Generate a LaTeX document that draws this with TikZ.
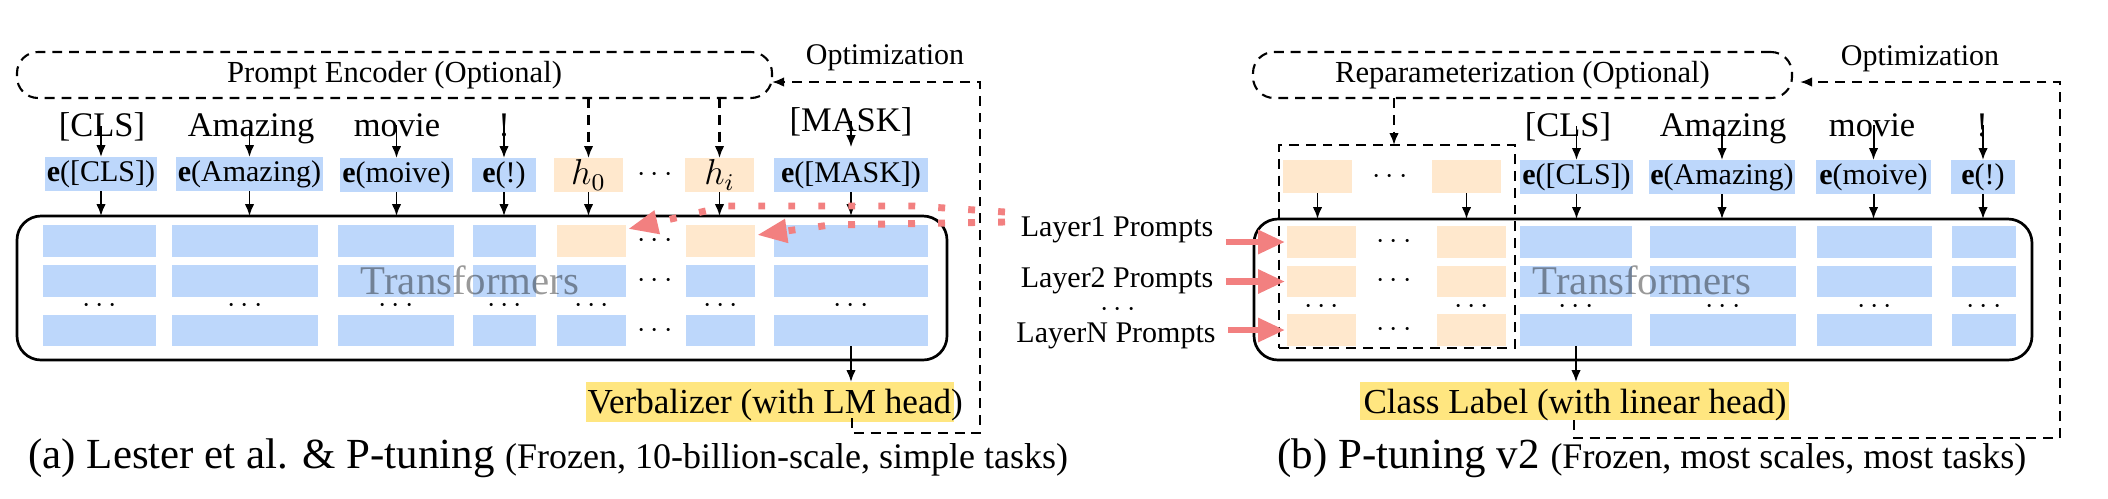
\documentclass[tikz,border=0pt]{standalone}
\usepackage{fontspec}
\setmainfont{Liberation Serif}
\usetikzlibrary{arrows.meta,fit,calc}
\definecolor{eblue}{RGB}{189,215,251}
\definecolor{porange}{RGB}{255,232,205}
\definecolor{hlyellow}{RGB}{255,230,128}
\definecolor{pred}{RGB}{242,128,128}
\newcommand\fsz[1]{\fontsize{#1}{#1}\selectfont}
\tikzset{
  blk/.style={inner sep=0pt, outer sep=0pt},
  bb/.style={blk, fill=eblue},
  ob/.style={blk, fill=porange},
  yb/.style={blk, fill=hlyellow},
  elab/.style={font=\fsz{10}, inner sep=0pt},
  hlab/.style={font=\fsz{12}, inner sep=0pt},
  tok/.style={font=\fsz{11.5}, inner sep=0pt, outer sep=0pt, anchor=base},
  dotsn/.style={font=\fsz{10}, inner sep=0pt},
  arr/.style={line width=0.65pt, -{Latex[length=4pt,width=3.2pt]}},
  dpat/.style={dash pattern=on 3.3pt off 2.3pt},
  darr/.style={arr, dpat, line width=0.7pt},
  dbox/.style={blk, draw, line width=0.7pt, dpat},
  tbox/.style={blk, draw, line width=0.9pt, rounded corners=8pt},
  reddot/.style={draw=pred, line width=2.3pt, dash pattern=on 2.3pt off 7.7pt, -{Triangle[length=10pt,width=7.5pt]}},
  redarr/.style={draw=pred, line width=2.3pt, -{Triangle[length=9pt,width=7.5pt]}},
  ttxt/.style={font=\fsz{13.6}, text=black, text opacity=0.4, anchor=base, inner sep=0pt},
  lab/.style={font=\fsz{10}},
  captxt/.style={anchor=base west, inner sep=0pt},
}
\begin{document}
\begin{tikzpicture}[x=0.33333pt,y=-0.33333pt]
\useasboundingbox (0,0) rectangle (2108,498);

%%%%%%%%%%%%%%%% panel (a)
\node[dbox, rounded corners=7pt, fit={(17,52)(772,98)}] (penc) {};
\node[font=\fsz{10.2}, inner sep=0pt] (penct) at (penc.center) {Prompt Encoder (Optional)};

\node[tok] (tCLS) at (102,136) {[CLS]};
\node[tok] (tAmz) at (251,136) {Amazing};
\node[tok] (tMov) at (397,136) {movie};
\node[tok] (tExc) at (504,136) {!};
\node[tok] (tMask) at (851,131) {[MASK]};

\node[bb, fit={(45,157)(157,191)}] (eCLS) {};
\node[bb, fit={(176,157)(323,191)}] (eAmz) {};
\node[bb, fit={(340,158)(453,192)}] (eMov) {};
\node[bb, fit={(472,158)(536,192)}] (eExc) {};
\node[ob, fit={(554,158)(623,192)}] (h0) {};
\node[ob, fit={(685,158)(754,192)}] (hi) {};
\node[bb, fit={(774,158)(928,192)}] (eMask) {};
\node[elab] (eCLSt) at (eCLS.center) {\textbf{e}([CLS])};
\node[elab] (eAmzt) at (eAmz.center) {\textbf{e}(Amazing)};
\node[elab] (eMovt) at (eMov.center) {\textbf{e}(moive)};
\node[elab] (eExct) at (eExc.center) {\textbf{e}(!)};
\node[hlab] (h0t) at (h0.center) {$h_0$};
\node[hlab] (hit) at (hi.center) {$h_i$};
\node[elab] (eMaskt) at (eMask.center) {\textbf{e}([MASK])};
\node[dotsn] (hdots) at (655,175) {$\cdots$};

\foreach \c/\xa/\xb/\fa in {1/43/156/eblue, 2/172/318/eblue, 3/338/454/eblue, 4/473/536/eblue, 5/557/626/porange, 6/686/755/porange, 7/774/928/eblue} {
  \node[blk, fill=\fa, fit={(\xa,225)(\xb,257)}] (a\c1) {};
  \node[bb, fit={(\xa,265)(\xb,297)}] (a\c2) {};
  \node[bb, fit={(\xa,315)(\xb,346)}] (a\c3) {};
  \node[dotsn] (ad\c) at ({(\xa+\xb)/2},306) {$\cdots$};
}
\foreach \r/\y in {1/241, 2/281, 3/331} \node[dotsn] (amd\r) at (655,\y) {$\cdots$};

\node[tbox, fit={(17,216)(947,360)}] (trA) {};
\node[ttxt] (trAt) at (470,294) {Transformers};

\foreach \t/\e in {tCLS/eCLS, tAmz/eAmz, tMov/eMov, tExc/eExc}
  \draw[arr] (\t.center -| \e.north) -- (\e.north);
\draw[arr] (tMask.center -| eMask.north) -- ([yshift=3.6pt]eMask.north);
\foreach \e in {eCLS,eAmz,eMov,eExc,h0,hi,eMask}
  \draw[arr] (\e.south) -- (\e.south |- trA.north);
\foreach \e in {h0,hi}
  \draw[darr] (\e.north |- penc.south) -- (\e.north);

\node[yb, fit={(586,382)(954,422)}] (verbhl) {};
\node[captxt, font=\fsz{11.7}] (verbtxt) at (587,413) {Verbalizer (with LM head)};
\draw[arr] (a73.south) -- (a73.south |- verbhl.north);

\coordinate (oA0) at (852,418);
\coordinate (oAt) at (772,82);
\draw[darr] (oA0) -- (852,433) -- (980,433) -- (980,82) -- (oAt);
\node[lab] (oAtxt) at (885,58) {Optimization};

\coordinate (rAu) at (1005,212);
\coordinate (rAl) at (1005,222);
\draw[reddot] (rAu) -- (915,206) -- (727,206) -- ($(a51.north east)+(2,4)$);
\draw[reddot] (rAl) -- (830,225) -- ($(a61.north east)+(2,10)$);

\node[captxt] (capA) at (28,468) {\fsz{14.3}(a) Lester et al. \& P-tuning \fsz{12}(Frozen, 10-billion-scale, simple tasks)};

%%%%%%%%%%%%%%%% panel (b)
\node[dbox, rounded corners=7pt, fit={(1253,52)(1792,98)}] (repar) {};
\node[font=\fsz{10.2}, inner sep=0pt] (repart) at (repar.center) {Reparameterization (Optional)};

\node[tok] (uCLS) at (1568,136) {[CLS]};
\node[tok] (uAmz) at (1723,136) {Amazing};
\node[tok] (uMov) at (1872,136) {movie};
\node[tok] (uExc) at (1982,136) {!};

\node[ob, fit={(1283,160)(1352,193)}] (p1) {};
\node[dotsn] (pdots) at (1390,177) {$\cdots$};
\node[ob, fit={(1432,160)(1501,193)}] (p2) {};
\node[bb, fit={(1520,160)(1633,194)}] (fCLS) {};
\node[bb, fit={(1649,160)(1795,194)}] (fAmz) {};
\node[bb, fit={(1816,160)(1931,194)}] (fMov) {};
\node[bb, fit={(1951,160)(2015,194)}] (fExc) {};
\node[elab] (fCLSt) at (fCLS.center) {\textbf{e}([CLS])};
\node[elab] (fAmzt) at (fAmz.center) {\textbf{e}(Amazing)};
\node[elab] (fMovt) at (fMov.center) {\textbf{e}(moive)};
\node[elab] (fExct) at (fExc.center) {\textbf{e}(!)};

\foreach \c/\xa/\xb/\fa in {A/1287/1356/porange, B/1437/1506/porange, C/1520/1632/eblue, D/1650/1796/eblue, E/1817/1932/eblue, F/1952/2016/eblue} {
  \node[blk, fill=\fa, fit={(\xa,226)(\xb,258)}] (b\c1) {};
  \node[blk, fill=\fa, fit={(\xa,266)(\xb,297)}] (b\c2) {};
  \node[blk, fill=\fa, fit={(\xa,314)(\xb,346)}] (b\c3) {};
  \node[dotsn] (bd\c) at ({(\xa+\xb)/2},307) {$\cdots$};
}
\foreach \r/\y in {1/242, 2/281, 3/330} \node[dotsn] (bmd\r) at (1394,\y) {$\cdots$};

\node[tbox, fit={(1254,219)(2032,360)}] (trB) {};
\node[ttxt] (trBt) at (1642,294) {Transformers};
\node[dbox, fit={(1279,145)(1515,348)}] (pbox) {};

\coordinate (rpx) at (1394,0);
\draw[darr] (repar.south -| rpx) -- (pbox.north -| rpx);

\foreach \t/\e in {uCLS/fCLS, uAmz/fAmz, uMov/fMov, uExc/fExc}
  \draw[arr] (\t.center -| \e.north) -- (\e.north);
\foreach \e in {p1,p2,fCLS,fAmz,fMov,fExc}
  \draw[arr] (\e.south) -- (\e.south |- trB.north);

\node[yb, fit={(1360,382)(1789,420)}] (clshl) {};
\node[font=\fsz{11.7}, anchor=base, inner sep=0pt] (clstxt) at (1575,413) {Class Label (with linear head)};
\draw[arr] (bC3.south) -- (bC3.south |- clshl.north);

\coordinate (oB0) at (1574,420);
\coordinate (oBt) at (1800,82);
\draw[darr] (oB0) -- (1574,438) -- (2060,438) -- (2060,82) -- (oBt);
\node[lab] (oBtxt) at (1920,59) {Optimization};

\node[lab, anchor=base, inner sep=0pt] (L1) at (1117,236) {Layer1 Prompts};
\node[lab, anchor=base, inner sep=0pt] (L2) at (1117,287) {Layer2 Prompts};
\node[dotsn] (Ld) at (1118,310) {$\cdots$};
\node[lab, anchor=base, inner sep=0pt] (LN) at (1116,342) {LayerN Prompts};
\foreach \l/\r in {L1/bA1, L2/bA2, LN/bA3}
  \draw[redarr] ($(\l.east |- \r.west)+(12,0)$) -- ([xshift=-0.6pt]\r.west);

\node[captxt] (capB) at (1277,468) {\fsz{14.3}(b) P-tuning v2 \fsz{12}(Frozen, most scales, most tasks)};

\end{tikzpicture}
\end{document}
